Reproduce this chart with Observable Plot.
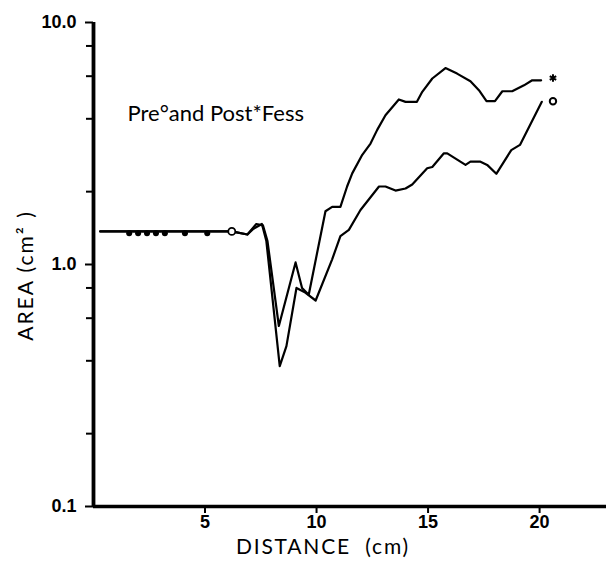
<!DOCTYPE html>
<html>
<head>
<meta charset="utf-8">
<script src="https://cdn.jsdelivr.net/npm/d3@7"></script>
<script src="https://cdn.jsdelivr.net/npm/@observablehq/plot@0.6"></script>
<style>
  body { margin: 0; background: #fff; }
  svg { display: block; }
</style>
</head>
<body>
<div id="chart"></div>
<script>
// Pre-FESS curve (marked °)
const preX = [0.3, 6.2, 6.9, 7.15, 7.55, 7.75, 8.35, 8.65, 9.1, 9.45, 9.96, 10.7, 11.07, 11.45, 11.97, 12.8, 13.09, 13.54, 13.99, 14.29, 14.96, 15.19, 15.71, 15.86, 16.68, 16.9, 17.35, 17.65, 18.06, 18.73, 19.12, 20.1];
const preY = [1.37, 1.37, 1.33, 1.40, 1.47, 1.25, 0.38, 0.46, 0.80, 0.77, 0.71, 1.05, 1.31, 1.39, 1.68, 2.1, 2.1, 2.02, 2.06, 2.14, 2.5, 2.53, 2.88, 2.88, 2.58, 2.66, 2.66, 2.58, 2.37, 2.97, 3.12, 4.7];
// Post-FESS curve (marked *)
const postX = [0.3, 6.2, 6.9, 7.3, 7.6, 7.8, 8.31, 9.06, 9.35, 9.65, 10.4, 10.7, 11.07, 11.37, 11.6, 12.05, 12.42, 12.72, 13.09, 13.69, 13.99, 14.5, 14.74, 15.19, 15.78, 16.3, 16.9, 17.28, 17.62, 18.0, 18.33, 18.77, 19.3, 19.67, 20.07];
const postY = [1.37, 1.37, 1.33, 1.47, 1.45, 1.25, 0.557, 1.02, 0.80, 0.75, 1.66, 1.73, 1.73, 2.1, 2.38, 2.84, 3.16, 3.6, 4.14, 4.81, 4.7, 4.7, 5.17, 5.87, 6.48, 6.15, 5.72, 5.25, 4.73, 4.73, 5.2, 5.2, 5.5, 5.77, 5.77];
// small filled markers along flat section
const dotX = [1.6, 2.0, 2.4, 2.8, 3.2, 4.1, 5.1];
const dotY = [1.345, 1.345, 1.345, 1.345, 1.345, 1.345, 1.345];
// open circle marker on flat section
const openX = [6.2];
const openY = [1.37];
// end-of-curve markers
const endPostX = [20.6], endPostY = [5.9];
const endPreX = [20.6], endPreY = [4.73];

const yMajor = [0.1, 1, 10];
const yMajorLabels = ["0.1", "1.0", "10.0"];
const yMinor = [0.2, 0.4, 0.6, 0.8, 2, 4, 6, 8];
const xTicks = [5, 10, 15, 20];
const xTickLabels = ["5", "10", "15", "20"];

const legendText = "Pre°and Post*Fess";
const xLabel = "DISTANCE  (cm)";
const yLabel = "AREA (cm² )";

const pre = preX.map((x, i) => ({x, y: preY[i]}));
const post = postX.map((x, i) => ({x, y: postY[i]}));
const dots = dotX.map((x, i) => ({x, y: dotY[i]}));

const bold = {fontFamily: "Liberation Sans, Arial, sans-serif", fontWeight: "bold", fontSize: 18};

const chart = Plot.plot({
  width: 606,
  height: 562,
  marginLeft: 93,
  marginRight: 0,
  marginTop: 22,
  marginBottom: 56,
  x: {domain: [0, 23], axis: null},
  y: {type: "log", domain: [0.1, 10], axis: null},
  style: {background: "white", color: "black", fontFamily: "Lato, sans-serif"},
  marks: [
    Plot.axisY(yMajor, {tickSize: 8, tickPadding: 9, tickFormat: (d) => yMajorLabels[yMajor.indexOf(d)], label: null, strokeWidth: 2, ...bold}),
    Plot.axisY(yMinor, {tickSize: 7, tickFormat: () => "", label: null, strokeWidth: 2}),
    Plot.axisX(xTicks, {tickSize: 7, tickPadding: 2, tickFormat: (d) => xTickLabels[xTicks.indexOf(d)], label: null, strokeWidth: 2, ...bold}),
    Plot.ruleX([0], {strokeWidth: 3.8}),
    Plot.ruleY([0.1], {strokeWidth: 3.5}),
    Plot.line(pre, {x: "x", y: "y", stroke: "black", strokeWidth: 2.2, strokeLinejoin: "round"}),
    Plot.line(post, {x: "x", y: "y", stroke: "black", strokeWidth: 2.2, strokeLinejoin: "round"}),
    Plot.dot(dots, {x: "x", y: "y", r: 3, fill: "black"}),
    Plot.dot(openX.map((x, i) => ({x, y: openY[i]})), {x: "x", y: "y", r: 3.5, fill: "white", stroke: "black", strokeWidth: 1.8}),
    Plot.dot(endPostX.map((x, i) => ({x, y: endPostY[i]})), {x: "x", y: "y", symbol: "asterisk", r: 3.5, stroke: "black", strokeWidth: 2}),
    Plot.dot(endPreX.map((x, i) => ({x, y: endPreY[i]})), {x: "x", y: "y", r: 3.2, fill: "none", stroke: "black", strokeWidth: 2}),
    Plot.text([legendText], {frameAnchor: "top-left", textAnchor: "start", dx: 34, dy: 83, fontSize: 22, fontFamily: "Lato, sans-serif"}),
    Plot.text([xLabel], {frameAnchor: "bottom", textAnchor: "middle", dx: -27, dy: 47, fontSize: 21, fontFamily: "Lato, sans-serif"}),
    Plot.text([yLabel], {frameAnchor: "left", textAnchor: "middle", rotate: -90, dx: -67, dy: 11, fontSize: 21, fontFamily: "Lato, sans-serif"})
  ]
});
// add tracking to the axis titles
d3.select(chart).selectAll("text").each(function () {
  const t = this.textContent;
  if (t === xLabel) this.style.letterSpacing = "1.8px";
  if (t === yLabel) this.style.letterSpacing = "2px";
});
document.getElementById("chart").appendChild(chart);
</script>
</body>
</html>
